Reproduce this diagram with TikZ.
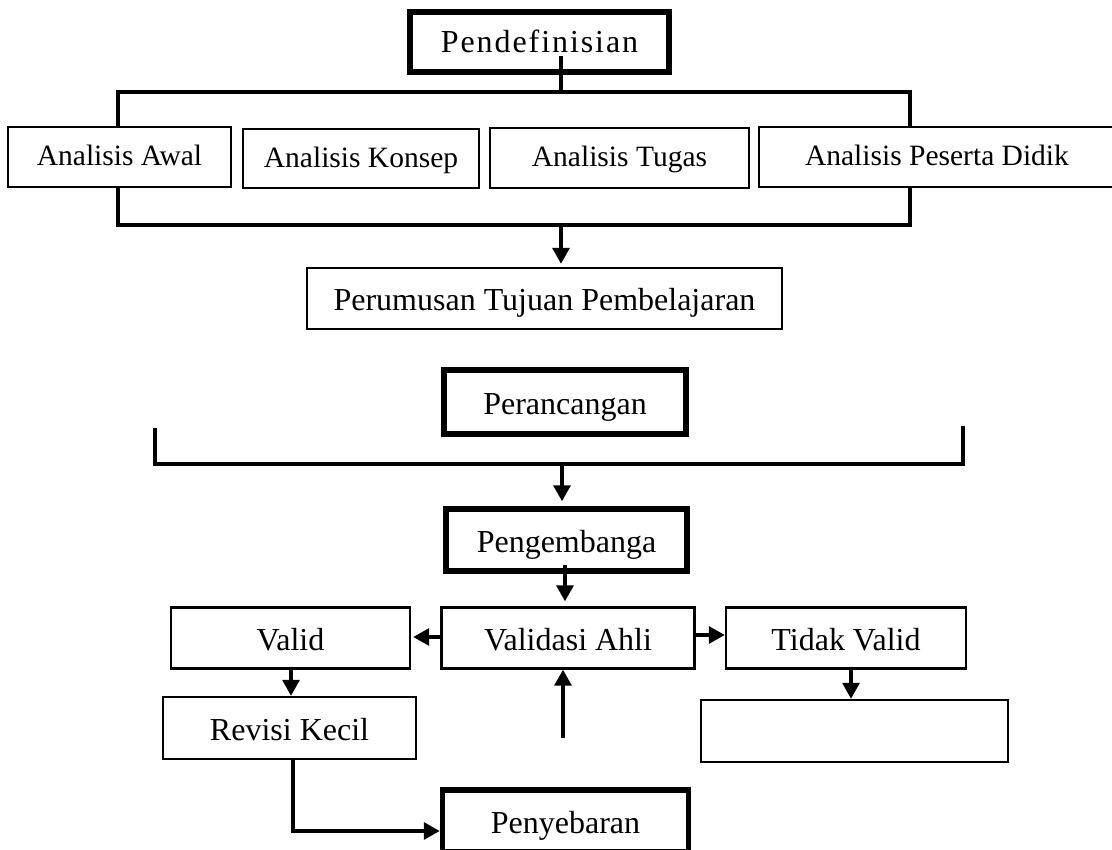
\documentclass[tikz,border=0pt]{standalone}
\usepackage{fontspec}
\setmainfont{Liberation Serif}
\usetikzlibrary{arrows.meta}
\begin{document}
\begin{tikzpicture}[x=1pt,y=-1pt,
  box/.style={draw,line width=2.4pt,inner sep=0pt,align=center,font=\fontsize{32}{36}\selectfont,text height=27pt,text depth=3pt},
  thickbox/.style={box,line width=5.5pt},
  toprow/.style={box,font=\fontsize{29.5}{33}\selectfont,text height=22pt,text depth=4pt},
  conn/.style={line width=3.2pt},
  arr/.style={conn,-{Triangle[width=17pt,length=16pt]}}]
\useasboundingbox (0,0) rectangle (1112,850);
% top part
\node[thickbox,minimum width=259pt,minimum height=60pt,text height=25pt,text depth=4pt] (pend) at (539.5,42) {\addfontfeature{LetterSpace=6}Pendefinisian};
\node[toprow,minimum width=223pt,minimum height=60pt] (aa) at (119.5,157) {Analisis Awal};
\node[toprow,minimum width=236pt,minimum height=59pt] (ak) at (361,158.5) {Analisis Konsep};
\node[toprow,minimum width=259pt,minimum height=60pt] (at) at (619.5,158) {Analisis Tugas};
\node[toprow,minimum width=356pt,minimum height=60pt] (ap) at (937,157) {Analisis Peserta Didik};
\node[box,minimum width=475pt,minimum height=61pt] (pt) at (544.5,298.5) {Perumusan Tujuan Pembelajaran};
\coordinate (p1) at (561,56);
\coordinate (b1) at (561,92);
\coordinate (b2) at (561,225);
\draw[conn] (p1) -- (b1);
\draw[conn] (aa.north -| 118,0) |- (b1) -| (ap.north -| 910,0);
\draw[conn] (aa.south -| 118,0) |- (b2) -| (ap.south -| 910,0);
\draw[arr,shorten >=3pt] (b2) -- (b2 |- pt.north);
% lower part
\node[thickbox,minimum width=242pt,minimum height=64pt] (per) at (565,402) {Perancangan};
\coordinate (l1) at (155,428);
\coordinate (r1) at (963,426);
\coordinate (b3) at (562,464);
\draw[conn] (l1) |- (b3) -| (r1);
\node[thickbox,minimum width=241pt,minimum height=62pt] (peng) at (566.5,540) {Pengembanga};
\draw[arr,shorten >=5pt] (b3) -- (b3 |- peng.north);
\node[box,minimum width=253pt,minimum height=61pt] (va) at (568,638) {Validasi Ahli};
\node[box,minimum width=239pt,minimum height=61pt] (v) at (290.5,638) {Valid};
\node[box,minimum width=240pt,minimum height=61pt] (tv) at (846,638) {Tidak Valid};
\node[box,minimum width=253pt,minimum height=62pt] (rk) at (289.5,728) {Revisi Kecil};
\node[box,minimum width=307pt,minimum height=62pt] (e) at (854.5,731) {};
\node[thickbox,minimum width=246pt,minimum height=62pt] (pen) at (565.5,821) {Penyebaran};
\coordinate (pg) at (565,565);
\draw[arr,shorten >=5pt] (pg) -- (pg |- va.north);
\draw[arr,shorten >=2pt] (va.west |- 0,637) -- (v.east |- 0,637);
\draw[arr] (va.east |- 0,635) -- (tv.west |- 0,635);
\draw[arr] (v.south -| 291,0) -- (rk.north -| 291,0);
\coordinate (u) at (563,738);
\draw[arr] (u) -- (u |- va.south);
\draw[arr] (tv.south -| 851,0) -- (e.north -| 851,0);
\draw[arr] (rk.south -| 293,0) |- (pen.west |- 0,831);
\end{tikzpicture}
\end{document}
